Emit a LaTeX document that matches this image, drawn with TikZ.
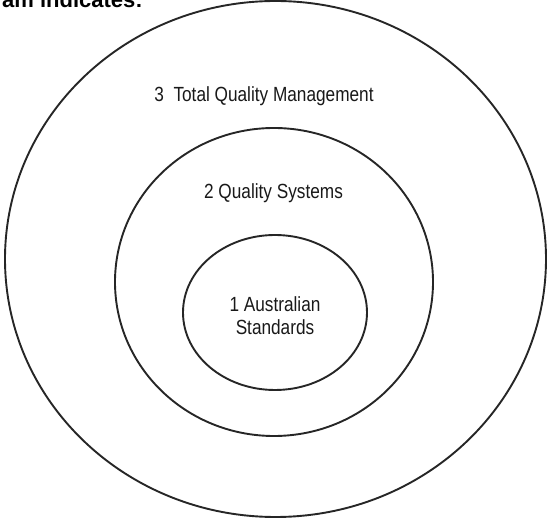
\documentclass[tikz,border=0pt]{standalone}
\usepackage{fontspec}
\setmainfont{Liberation Sans}[FakeStretch=0.84]
\newfontfamily\headfont{Liberation Sans}
\usetikzlibrary{shapes.geometric}

\begin{document}
\begin{tikzpicture}[x=1pt,y=-1pt]

\tikzset{ring/.style={ellipse,draw=black!85,line width=1.9pt,inner sep=0pt},
         ringlabel/.style={font=\fontsize{20.5}{23.5}\selectfont,align=center,inner sep=0pt,text=black!90}}

\useasboundingbox (0,0) rectangle (547,518);

\node[anchor=base east,font=\headfont\bfseries\fontsize{22}{26}\selectfont,inner sep=0pt] (head) at (143,8) {am indicates:};

\node[ring,minimum width=541pt,minimum height=516pt] (Q_3) at (275.5,259) {};
\node[ring,minimum width=318pt,minimum height=308pt] (Q_2) at (274,282) {};
\node[ring,minimum width=184pt,minimum height=155pt] (Q_1) at (275,312.5) {};

\node[ringlabel,anchor=base] (L_3) at (264,101.7) {3\ \ Total Quality Management};
\node[ringlabel,anchor=base] (L_2) at (273.5,199) {2 Quality Systems};
\node[ringlabel,anchor=base] (L_1) at (275,335) {1 Australian\\Standards};

\end{tikzpicture}
\end{document}
